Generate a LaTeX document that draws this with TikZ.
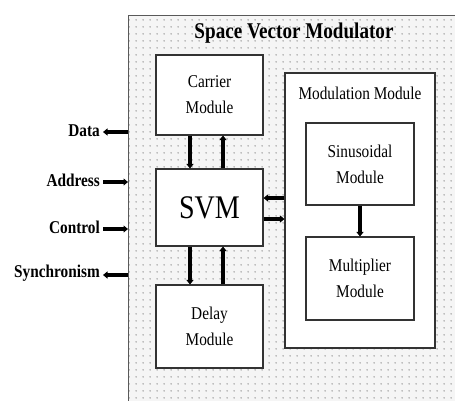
\documentclass[tikz,border=0pt]{standalone}
\usepackage{fontspec}
\setmainfont{Liberation Serif}[FakeStretch=0.85]
\usetikzlibrary{arrows.meta,patterns.meta}
\tikzdeclarepattern{name=mydots, type=uncolored, bounding box={(0pt,0pt) and (7pt,7pt)}, tile size={(7pt,7pt)}, code={\fill (3.5pt,3.5pt) circle (1pt);}}
\tikzset{
  modbox/.style={draw=black!80, line width=1.1pt, fill=white, align=center, inner sep=0pt, font=\fontsize{18}{26}\selectfont},
  arr/.style={line width=3.2pt, -{Triangle[length=4.5pt,width=7pt]}, black},
  lbl/.style={font=\bfseries\fontsize{18}{20}\selectfont, anchor=east, inner sep=0pt}
}
\begin{document}
\begin{tikzpicture}[x=1pt,y=-1pt]
\useasboundingbox (0,0) rectangle (455,400);
\begin{scope}
\clip (0,0) rectangle (455,400);
\path[fill=gray!8] (128,15) rectangle (470,410);
\path[pattern={mydots}, pattern color=gray!65] (128,15) rectangle (470,410);
\draw[black!65, line width=0.9pt] (128,415) -- (128,15) -- (470,15);
\end{scope}
\node[font=\bfseries\fontsize{22.5}{26}\selectfont] (title) at (294,33) {Space Vector Modulator};
\node[modbox, minimum width=107pt, minimum height=80pt] (carrier) at (209.5,95) {Carrier\\Module};
\node[modbox, minimum width=107pt, minimum height=77pt, font=\fontsize{33}{36}\selectfont] (svm) at (209.5,207.5) {SVM};
\node[modbox, minimum width=107pt, minimum height=83pt] (delay) at (209.5,326.5) {Delay\\Module};
\node[modbox, minimum width=150pt, minimum height=275pt] (mod) at (360,210.5) {};
\node[font=\fontsize{18}{20}\selectfont] (modt) at (360,93) {Modulation Module};
\node[modbox, minimum width=108pt, minimum height=82pt] (sin) at (360,164) {Sinusoidal\\Module};
\node[modbox, minimum width=108pt, minimum height=83pt] (mult) at (360,278.5) {Multiplier\\Module};
% carrier <-> svm
\draw[arr] ([xshift=-19.5pt]carrier.south) -- ([xshift=-19.5pt]svm.north);
\draw[arr] ([xshift=13.5pt]svm.north) -- ([xshift=13.5pt]carrier.south);
% svm <-> delay
\draw[arr] ([xshift=-19.5pt]svm.south) -- ([xshift=-19.5pt]delay.north);
\draw[arr] ([xshift=13.5pt]delay.north) -- ([xshift=13.5pt]svm.south);
% svm <-> modulation
\coordinate (s1) at ([yshift=9.5pt]svm.east);
\coordinate (s2) at ([yshift=-11.5pt]svm.east);
\draw[arr] (s1 -| mod.west) -- (s1);
\draw[arr] (s2) -- (s2 -| mod.west);
% sinusoidal -> multiplier
\draw[arr] (sin.south) -- (mult.north);
% left labels
\node[lbl] (data) at (100,131) {Data};
\node[lbl] (addr) at (100,180) {Address};
\node[lbl] (ctrl) at (100,227) {Control};
\node[lbl] (sync) at (100,273) {Synchronism};
\coordinate (e1) at (128,132);
\coordinate (e2) at (128,182);
\coordinate (e3) at (128,229);
\coordinate (e4) at (128,275);
\draw[arr, shorten >=3pt] (e1) -- (e1 -| data.east);
\draw[arr, shorten <=3pt] (e2 -| addr.east) -- (e2);
\draw[arr, shorten <=3pt] (e3 -| ctrl.east) -- (e3);
\draw[arr, shorten >=3pt] (e4) -- (e4 -| sync.east);
\end{tikzpicture}
\end{document}
